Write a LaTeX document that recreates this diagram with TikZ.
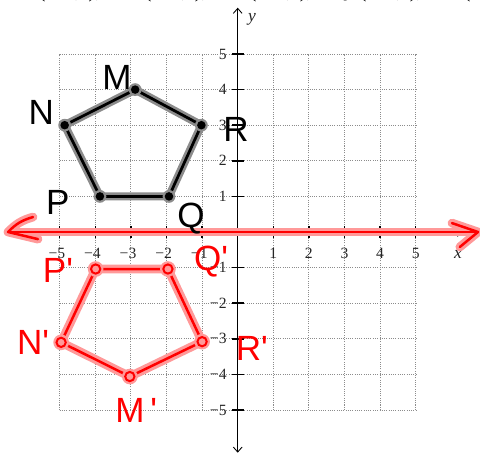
\documentclass[tikz,border=0pt]{standalone}
\usepackage{fontspec}
\setmainfont{Liberation Serif}
\newfontfamily\handfont{Liberation Sans}
\usetikzlibrary{arrows.meta}

\tikzset{
  gridline/.style={gray!90, densely dotted, line width=0.8pt},
  axisline/.style={black, line width=0.7pt},
  tickmark/.style={black, line width=1.2pt},
  ticklabel/.style={font=\fontsize{12.5}{12.5}\selectfont, text=black!85, inner sep=1pt},
  toptext/.style={font=\fontsize{17}{17}\selectfont, inner sep=0pt},
  inkblack/.style={black, line width=2.2pt, line cap=round, line join=round},
  haloblack/.style={black!45, line width=6.5pt, line cap=round, line join=round},
  inkred/.style={red, line width=2pt, line cap=round, line join=round},
  halored/.style={red!40, line width=7pt, line cap=round, line join=round},
  handblack/.style={font=\handfont\fontsize{28}{28}\selectfont, text=black},
  handred/.style={font=\handfont\fontsize{28}{28}\selectfont, text=red},
}

\begin{document}
\begin{tikzpicture}
    \useasboundingbox (-6.677,-6.236) rectangle (6.806,6.517);

    % ;- cut-off text line at the top ;-
    \foreach \g [count=\k] in {-5.50,-2.52,0.43,3.52}{
        \node[toptext, anchor=base] (open\k) at (\g,6.575) {(};
        \node[toptext, anchor=base] (comma\k) at (\g+1.01,6.575) {,};
        \node[toptext, anchor=base] (close\k) at (\g+1.49,6.575) {),};
    }
    \node[toptext, anchor=base] (qtop) at (2.93,6.575) {\textit{Q}};
    \node[toptext, anchor=base] (open5) at (6.44,6.575) {(};

    % ;- grid ;-
    \foreach \i in {-5,...,5}{
        \draw[gridline] (\i,-5) -- (\i,5);
        \draw[gridline] (-5,\i) -- (5,\i);
    }

    % ;- axes ;-
    \coordinate (xmin) at (-6.35,0);
    \coordinate (xmax) at (6.33,0);
    \coordinate (ymin) at (0,-6.2);
    \coordinate (ymax) at (0,6.3);
    \draw[axisline, {Straight Barb[length=4pt,width=7pt]}-{Straight Barb[length=4pt,width=7pt]}] (xmin) -- (xmax);
    \draw[axisline, {Straight Barb[length=4pt,width=7pt]}-{Straight Barb[length=4pt,width=7pt]}] (ymin) -- (ymax);
    \node[ticklabel, font=\fontsize{14}{14}\selectfont\itshape] (xlab) at (6.19,-0.62) {x};
    \node[ticklabel, font=\fontsize{14}{14}\selectfont\itshape] (ylab) at (0.4,5.98) {y};

    % tick marks and numbers
    \foreach \i in {1,...,5}{
        \draw[tickmark] (\i,-0.17) -- (\i,0.17);
        \draw[tickmark] (-\i,-0.17) -- (-\i,0.17);
        \draw[tickmark] (-0.16,\i) -- (0.17,\i);
        \draw[tickmark] (-0.16,-\i) -- (0.17,-\i);
        \node[ticklabel] (xtp\i) at (\i,-0.6) {\i};
        \node[ticklabel] (xtn\i) at (-\i-0.08,-0.6) {−\i};
        \node[ticklabel, left] (ytp\i) at (-0.27,\i) {\i};
        \node[ticklabel, left] (ytn\i) at (-0.27,-\i) {−\i};
    }

    % ;- original pentagon MNPQR (black ink) ;-
    \coordinate (M) at (-2.88,4);
    \coordinate (N) at (-4.86,3);
    \coordinate (P) at (-3.87,1);
    \coordinate (Q) at (-1.93,1);
    \coordinate (R) at (-1.02,3);
    \draw[haloblack] (M) -- (N) -- (P) -- (Q) -- (R) -- cycle;
    \draw[inkblack] (M) -- (N) -- (P) -- (Q) -- (R) -- cycle;
    \foreach \v in {M,N,P,Q,R}{
        \fill[black!45] (\v) circle (0.18);
        \fill[black] (\v) circle (0.12);
    }

    % ;- reflected pentagon M'N'P'Q'R' (red ink) ;-
    \coordinate (Mp) at (-3.03,-4.06);
    \coordinate (Np) at (-4.96,-3.1);
    \coordinate (Pp) at (-3.99,-1.04);
    \coordinate (Qp) at (-1.96,-1.04);
    \coordinate (Rp) at (-1.0,-3.08);
    \draw[halored] (Mp) -- (Np) -- (Pp) -- (Qp) -- (Rp) -- cycle;
    \draw[inkred] (Mp) -- (Np) -- (Pp) -- (Qp) -- (Rp) -- cycle;
    \foreach \v in {Mp,Np,Pp,Qp,Rp}{
        \fill[red!40] (\v) circle (0.22);
        \draw[red, line width=1.6pt] (\v) circle (0.13);
    }

    % red line of reflection drawn over the x-axis
    \coordinate (lefttip) at (-6.45,0);
    \coordinate (leftup) at (-5.75,0.42);
    \coordinate (leftdown) at (-5.61,-0.2);
    \coordinate (righttip) at (6.75,0);
    \coordinate (rightup) at (6.02,0.25);
    \coordinate (rightdown) at (6.24,-0.42);
    \draw[halored] (lefttip) -- (righttip);
    \draw[halored] (leftup) to[bend right=15] (lefttip) -- (leftdown);
    \draw[halored] (rightup) -- (righttip) -- (rightdown);
    \draw[inkred] (lefttip) -- (righttip);
    \draw[inkred] (leftup) to[bend right=15] (lefttip) -- (leftdown);
    \draw[inkred] (rightup) -- (righttip) -- (rightdown);

    % ;- handwritten vertex names ;-
    \node[handblack] (Mlab) at (-3.39,4.33) {M};
    \node[handblack] (Nlab) at (-5.52,3.37) {N};
    \node[handblack] (Rlab) at (-0.05,2.87) {R};
    \node[handblack] (Plab) at (-5.05,0.84) {P};
    \node[handblack] (Qlab) at (-1.31,0.39) {Q};
    \node[handred] (Pplab) at (-5.05,-1.07) {P'};
    \node[handred] (Qplab) at (-0.75,-0.84) {Q'};
    \node[handred] (Rplab) at (0.4,-3.26) {R'};
    \node[handred] (Nplab) at (-5.75,-3.09) {N'};
    \node[handred] (Mplab) at (-2.85,-5.0) {M\,'};

\end{tikzpicture}
\end{document}
